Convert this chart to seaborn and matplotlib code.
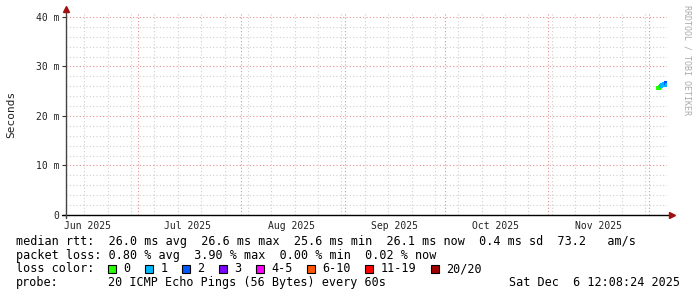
import matplotlib
matplotlib.use("Agg")
import matplotlib.pyplot as plt
import matplotlib.dates as mdates
import seaborn as sns
import pandas as pd
import numpy as np
from matplotlib.ticker import MultipleLocator, FixedLocator

# ---------------- data ----------------
now_str = "2025-12-06 12:08:24"
span_days = 180
times = ["2025-12-03 20:00", "2025-12-04 03:00", "2025-12-04 10:00", "2025-12-04 17:00",
         "2025-12-05 00:00", "2025-12-05 07:00", "2025-12-05 14:00", "2025-12-05 21:00",
         "2025-12-06 04:00", "2025-12-06 11:00"]
median_ms = [25.6, 25.7, 25.9, 26.1, 26.3, 26.2, 26.4, 26.3, 26.6, 26.2]
loss_count = ["0", "0", "0", "1", "1", "1", "1", "1", "2", "1"]

month_labels = ["Jun 2025", "Jul 2025", "Aug 2025", "Sep 2025", "Oct 2025", "Nov 2025"]
month_starts = ["2025-06-01", "2025-07-01", "2025-08-01", "2025-09-01", "2025-10-01", "2025-11-01"]
y_ticks = [0, 10, 20, 30, 40]
y_tick_labels = ["0", "10 m", "20 m", "30 m", "40 m"]

rtt_stats = [26.0, 26.6, 25.6, 26.1]   # avg, max, min, now
rtt_sd = 0.4
rtt_ams = 73.2
loss_stats = [0.80, 3.90, 0.00, 0.02]  # avg, max, min, now
loss_labels = ["0", "1", "2", "3", "4-5", "6-10", "11-19", "20/20"]
loss_colors = ["#26ff00", "#00b8ff", "#0059ff", "#7e00ff", "#ff00ff", "#ff5500", "#ff0000", "#a10000"]
probe_text = "20 ICMP Echo Pings (56 Bytes) every 60s"
date_text = "Sat Dec  6 12:08:24 2025"

# ---------------- figure ----------------
sns.set_theme(style="white")
plt.rcParams["font.family"] = ["DejaVu Sans Mono", "DejaVu Sans"]

W, H = 697, 297
fig = plt.figure(figsize=(W / 100, H / 100), dpi=100)
fig.patch.set_facecolor("white")

def fx(x):
    return x / W

def fy(y):
    return 1 - y / H

L, R, T, B = 66, 667, 13, 215
ax = fig.add_axes([fx(L), fy(B), (R - L) / W, (B - T) / H])
ax.set_facecolor("white")

df = pd.DataFrame({"time": pd.to_datetime(times), "median": median_ms, "loss": loss_count})
palette = dict(zip(loss_labels, loss_colors))

sns.lineplot(data=df, x="time", y="median", color="#505050", linewidth=0.8, ax=ax,
             legend=False, zorder=3)
sns.scatterplot(data=df, x="time", y="median", hue="loss", palette=palette, marker="s",
                s=7, linewidth=0, legend=False, ax=ax, zorder=4)

now = pd.Timestamp(now_str)
start = now - pd.Timedelta(days=span_days)
ax.set_xlim(start, now)
ax.set_ylim(0, 40.8)

# grids
ax.xaxis.set_major_locator(mdates.MonthLocator())
ax.xaxis.set_minor_locator(mdates.WeekdayLocator(byweekday=mdates.SU))
ax.yaxis.set_major_locator(FixedLocator(y_ticks))
ax.yaxis.set_minor_locator(MultipleLocator(2))
ax.grid(which="minor", color="#cfcfcf", linestyle=(0, (1, 2)), linewidth=0.8)
ax.grid(which="major", color="#e89090", linestyle=(0, (1, 2)), linewidth=0.8)
ax.set_axisbelow(True)

ax.set_xticklabels([])
ax.tick_params(axis="x", which="both", length=0)
ax.set_yticklabels(y_tick_labels)
ax.tick_params(axis="y", which="major", length=3, width=0.8, color="#333333",
               direction="out", pad=2, labelsize=7, labelcolor="#222222", left=True)
ax.tick_params(axis="y", which="minor", length=0)
for s in ax.spines.values():
    s.set_visible(False)
ax.set_xlabel("")
ax.set_ylabel("")

# month labels centered half a month after month start
for lab, ms in zip(month_labels, month_starts):
    xpos = pd.Timestamp(ms) + pd.Timedelta(days=15)
    if start <= xpos <= now:
        ax.text(mdates.date2num(xpos), -0.055, lab, transform=ax.get_xaxis_transform(),
                ha="center", va="center", fontsize=7, color="#222222", clip_on=False)

# axis lines with arrows
ax.plot([-4 / (R - L), 1 + 4 / (R - L)], [0, 0], transform=ax.transAxes, color="black",
        linewidth=1.0, clip_on=False, zorder=5)
ax.plot([0, 0], [-3 / (B - T), 1 + 2 / (B - T)], transform=ax.transAxes, color="#444444",
        linewidth=1.0, clip_on=False, zorder=5)
ax.plot([1 + 5 / (R - L)], [0], marker=">", markersize=4, color="#a01010",
        transform=ax.transAxes, clip_on=False, zorder=6)
ax.plot([0], [1 + 4 / (B - T)], marker="^", markersize=4, color="#a01010",
        transform=ax.transAxes, clip_on=False, zorder=6)

# y label
fig.text(fx(11), fy(114), "Seconds", rotation=90, ha="center", va="center", fontsize=8,
         color="#222222")

# watermark
fig.text(fx(687), fy(5), "RRDTOOL / TOBI OETIKER", rotation=270, ha="center", va="top",
         fontsize=6, color="#aaaaaa")

# legend text
fs = 8.5
row1 = "median rtt:  {:.1f} ms avg  {:.1f} ms max  {:.1f} ms min  {:.1f} ms now  {:.1f} ms sd  {:.1f}   am/s".format(
    *rtt_stats, rtt_sd, rtt_ams)
row2 = "packet loss: {:.2f} % avg  {:.2f} % max  {:.2f} % min  {:.2f} % now".format(*loss_stats)
fig.text(fx(16), fy(241.5), row1, ha="left", va="center", fontsize=fs, color="black")
fig.text(fx(16), fy(255.2), row2, ha="left", va="center", fontsize=fs, color="black")
fig.text(fx(16), fy(269), "loss color:", ha="left", va="center", fontsize=fs, color="black")
fig.text(fx(16), fy(282.7), "probe:", ha="left", va="center", fontsize=fs, color="black")
fig.text(fx(108), fy(282.7), probe_text, ha="left", va="center", fontsize=fs, color="black")
fig.text(fx(680), fy(282.7), date_text, ha="right", va="center", fontsize=fs, color="black")

cw = 7.09
x = 108.0
for lab, col in zip(loss_labels, loss_colors):
    fig.patches.append(plt.Rectangle((fx(x), fy(273)), 8 / W, 8 / H, transform=fig.transFigure,
                                     facecolor=col, edgecolor="black", linewidth=0.8))
    fig.text(fx(x + 15.3), fy(269), lab, ha="left", va="center", fontsize=fs, color="black")
    x += 29.9 + len(lab) * cw

fig.savefig("out.png", dpi=100, facecolor="white")
